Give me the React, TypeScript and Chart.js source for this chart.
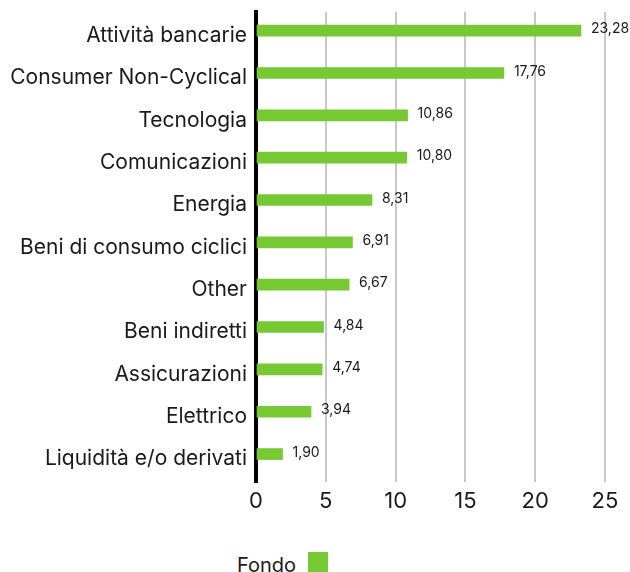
import React, { useEffect, useRef } from "react";
import { Chart, registerables } from "chart.js";

Chart.register(...registerables);

const categories = [
  "Attività bancarie",
  "Consumer Non-Cyclical",
  "Tecnologia",
  "Comunicazioni",
  "Energia",
  "Beni di consumo ciclici",
  "Other",
  "Beni indiretti",
  "Assicurazioni",
  "Elettrico",
  "Liquidità e/o derivati",
];
const fondo = [23.28, 17.76, 10.86, 10.8, 8.31, 6.91, 6.67, 4.84, 4.74, 3.94, 1.9];
const xTickValues = [0, 5, 10, 15, 20, 25];
const seriesName = "Fondo";

const GREEN = "#77c934";
const TEXT = "#1a1a1a";
const FONT = "Inter, 'Noto Sans', sans-serif";

const valueLabels = {
  id: "valueLabels",
  afterDatasetsDraw(chart: any) {
    const ctx = chart.ctx;
    const meta = chart.getDatasetMeta(0);
    ctx.save();
    ctx.font = `14px ${FONT}`;
    ctx.fillStyle = TEXT;
    ctx.textAlign = "left";
    ctx.textBaseline = "middle";
    meta.data.forEach((bar: any, i: number) => {
      const v = fondo[i];
      ctx.fillText(v.toFixed(2).replace(".", ","), bar.x + 10, bar.y - 1.5);
    });
    ctx.restore();
  },
};

export default function App() {
  const ref = useRef<HTMLCanvasElement>(null);
  useEffect(() => {
    if (!ref.current) return;
    const chart = new Chart(ref.current, {
      type: "bar",
      data: {
        datasets: [
          {
            label: seriesName,
            data: fondo.map((v, i) => ({ x: v, y: i })),
            backgroundColor: GREEN,
            borderWidth: 0,
            barThickness: 11,
          },
        ],
      },
      options: {
        indexAxis: "y",
        responsive: false,
        animation: false,
        layout: { padding: { top: 12, right: 25, left: 0, bottom: 0 } },
        plugins: {
          legend: { display: false },
          tooltip: { enabled: false },
        },
        scales: {
          x: {
            type: "linear",
            min: 0,
            max: 25,
            afterBuildTicks: (s: any) => {
              s.ticks = xTickValues.map((v) => ({ value: v }));
            },
            afterFit: (s: any) => {
              s.height = 48;
            },
            grid: {
              drawTicks: false,
              lineWidth: 2,
              color: (c: any) => (c.tick && c.tick.value === 0 ? "rgba(0,0,0,0)" : "#c8c8c8"),
            },
            border: { display: false },
            ticks: {
              padding: 6,
              color: TEXT,
              font: { family: FONT, size: 22 },
            },
          },
          y: {
            type: "linear",
            reverse: true,
            offset: false,
            min: -0.44,
            max: 10.66,
            afterBuildTicks: (s: any) => {
              s.ticks = categories.map((_, i) => ({ value: i }));
            },
            afterFit: (s: any) => {
              s.width = 256;
              s.paddingTop = 0;
              s.paddingBottom = 0;
            },
            grid: { display: false, drawTicks: false, offset: false },
            border: { display: true, color: "#000000", width: 4 },
            ticks: {
              autoSkip: false,
              padding: 9,
              labelOffset: 5,
              color: TEXT,
              font: { family: FONT, size: 21 },
              callback: (v: any) => categories[v] ?? "",
            },
          },
        },
      },
      plugins: [valueLabels],
    } as any);
    return () => chart.destroy();
  }, []);

  return (
    <div style={{ position: "absolute", left: 0, top: 0, width: 630, height: 572, overflow: "hidden", background: "#fff" }}>
      <canvas ref={ref} width={630} height={530} style={{ position: "absolute", left: 0, top: 0 }} />
      <div
        style={{
          position: "absolute",
          left: 237,
          top: 552,
          display: "flex",
          alignItems: "flex-start",
          fontFamily: FONT,
          fontSize: 20,
          color: TEXT,
        }}
      >
        <span style={{ lineHeight: "20px", marginTop: 3, width: 63, display: "inline-block" }}>{seriesName}</span>
        <span style={{ display: "inline-block", width: 20, height: 20, background: GREEN, marginLeft: 8 }} />
      </div>
    </div>
  );
}
